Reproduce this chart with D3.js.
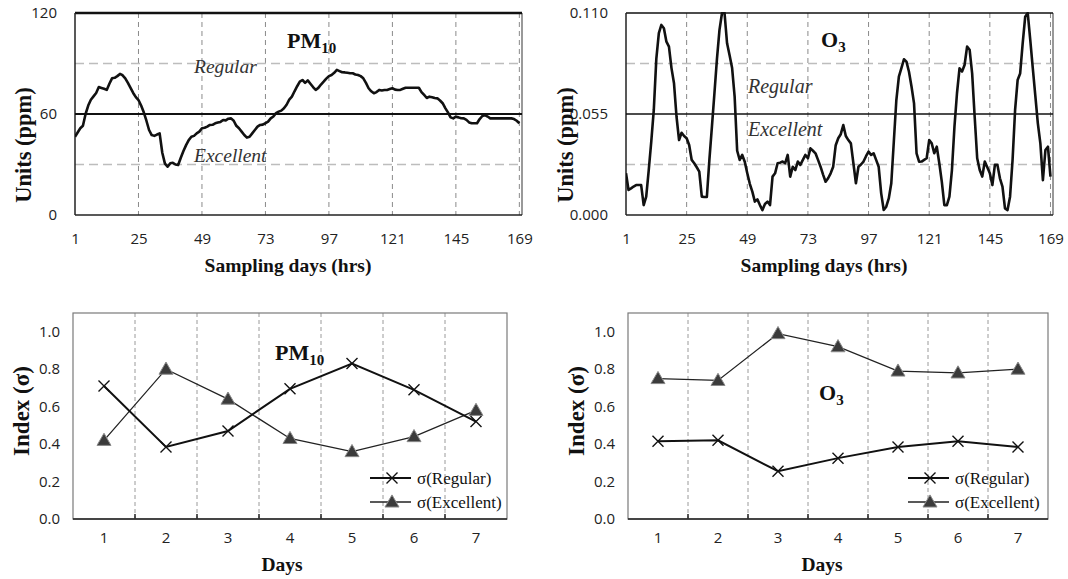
<!DOCTYPE html>
<html>
<head>
<meta charset="utf-8">
<script src="https://cdn.jsdelivr.net/npm/d3@7/dist/d3.min.js"></script>
<style>
  html, body { margin: 0; padding: 0; background: #fff; }
  svg { display: block; }
  .tick-label { font-family: "Open Sans", "Liberation Sans", sans-serif; font-size: 15px; fill: #222; }
  .axis-title { font-family: "Liberation Serif", "Times New Roman", serif; font-weight: bold; fill: #111; }
  .zone-label { font-family: "Liberation Serif", "Times New Roman", serif; font-style: italic; fill: #333; }
  .panel-label { font-family: "Liberation Serif", "Times New Roman", serif; font-weight: bold; fill: #111; }
  .legend-text { font-family: "Liberation Serif", "Times New Roman", serif; font-size: 17px; fill: #111; }
</style>
</head>
<body>
<svg id="chart" width="1068" height="579"></svg>
<script>
// ---------------- DATA ----------------
const hours = d3.range(1, 170); // sampling hour index 1..169
const hourTicks = [1, 25, 49, 73, 97, 121, 145, 169];

const pm10Hourly = [
  46.5, 49, 51.5, 53, 60, 65, 68.5, 70.5, 72.5, 76,
  75.5, 75, 74.3, 78, 81.2, 81.5, 82.5, 83.8, 83, 81.2,
  78.5, 75.5, 72.5, 70, 68.3, 65, 61, 56, 50.5, 47.5,
  47, 47.8, 48.5, 37, 30.5, 28.7, 30.7, 31, 30, 29.7,
  34, 38, 41.5, 44.5, 46.5, 47, 48.5, 49.5, 51.5, 51.8,
  52.5, 53.5, 53.6, 54.5, 54.9, 55.3, 56.4, 56.2, 57.2, 57.4,
  56, 53, 51.5, 49.5, 47.5, 46, 46.5, 48.5, 50.5, 52.5,
  53.5, 53.7, 54.5, 55.5, 57.4, 58.5, 60.5, 61.4, 62, 63.4,
  65.5, 68.5, 70.3, 73.5, 76.5, 79.2, 80.2, 78.5, 80, 78,
  76, 74.3, 75.5, 77.5, 79.2, 81, 82.5, 83.2, 84.5, 86.2,
  85.5, 84.8, 84.7, 84.5, 84.2, 84.2, 83.5, 83.2, 82.5, 81.2,
  78.5, 75.3, 73.5, 72.3, 73, 74.3, 74, 74.3, 74.3, 74.8,
  75.3, 74.5, 74.3, 74.3, 75, 75.6, 75.6, 75.6, 75.6, 75.6,
  75.6, 73, 71.3, 69.5, 70.3, 70, 69.5, 69.3, 68, 66.4,
  63.5, 61, 58, 57.4, 58.4, 58, 57.5, 57.4, 56.5, 55,
  54.5, 54.5, 54.5, 57, 58.8, 59.4, 58.5, 57.4, 57.4, 57.4,
  57.4, 57.4, 57.4, 57.4, 57.4, 57.4, 57, 56, 54.5
];

const o3Hourly = [
  0.0227, 0.0136, 0.0145, 0.0155, 0.0163, 0.0163, 0.0163, 0.0054, 0.0100, 0.0245,
  0.0400, 0.0572, 0.0850, 0.0990, 0.1035, 0.1017, 0.0944, 0.0917, 0.0800, 0.0717,
  0.0535, 0.0408, 0.0448, 0.0430, 0.0418, 0.0381, 0.0300, 0.0282, 0.0260, 0.0236,
  0.0100, 0.0098, 0.0098, 0.0300, 0.0480, 0.0663, 0.0850, 0.1008, 0.1100, 0.1100,
  0.0935, 0.0870, 0.0800, 0.0644, 0.0350, 0.0300, 0.0327, 0.0290, 0.0227, 0.0170,
  0.0127, 0.0073, 0.0085, 0.0054, 0.0027, 0.0060, 0.0073, 0.0054, 0.0209, 0.0227,
  0.0282, 0.0285, 0.0291, 0.0282, 0.0327, 0.0209, 0.0263, 0.0245, 0.0291, 0.0273,
  0.0300, 0.0327, 0.0309, 0.0363, 0.0350, 0.0336, 0.0300, 0.0263, 0.0220, 0.0181,
  0.0200, 0.0227, 0.0263, 0.0380, 0.0418, 0.0440, 0.0490, 0.0430, 0.0408, 0.0390,
  0.0282, 0.0173, 0.0263, 0.0275, 0.0291, 0.0320, 0.0345, 0.0327, 0.0336, 0.0300,
  0.0263, 0.0118, 0.0027, 0.0045, 0.0090, 0.0173, 0.0400, 0.0626, 0.0753, 0.0800,
  0.0848, 0.0835, 0.0780, 0.0700, 0.0608, 0.0336, 0.0290, 0.0291, 0.0300, 0.0309,
  0.0408, 0.0390, 0.0336, 0.0372, 0.0282, 0.0180, 0.0054, 0.0054, 0.0100, 0.0245,
  0.0481, 0.0663, 0.0799, 0.0781, 0.0817, 0.0917, 0.0900, 0.0771, 0.0535, 0.0309,
  0.0245, 0.0209, 0.0291, 0.0260, 0.0227, 0.0163, 0.0273, 0.0273, 0.0200, 0.0154,
  0.0036, 0.0027, 0.0100, 0.0300, 0.0572, 0.0735, 0.0771, 0.0935, 0.1080, 0.1100,
  0.0953, 0.0800, 0.0650, 0.0499, 0.0390, 0.0190, 0.0354, 0.0372, 0.0209
];

const pm10YTicks = [0, 60, 120];
const pm10Standard = 60;
const pm10Bands = [30, 90];          // excellent / regular dashed boundaries
const o3YTicks = [0, 0.055, 0.110];
const o3Standard = 0.055;
const o3Bands = [0.0275, 0.0825];

const days = [1, 2, 3, 4, 5, 6, 7];
const indexTicks = [0.0, 0.2, 0.4, 0.6, 0.8, 1.0];
const pm10Regular   = [0.71, 0.385, 0.47, 0.695, 0.83, 0.69, 0.52];
const pm10Excellent = [0.42, 0.80, 0.64, 0.43, 0.36, 0.44, 0.58];
const o3Regular     = [0.415, 0.42, 0.255, 0.325, 0.385, 0.415, 0.385];
const o3Excellent   = [0.75, 0.74, 0.99, 0.92, 0.79, 0.78, 0.80];
const legendLabels  = ["σ(Regular)", "σ(Excellent)"];

// ---------------- DRAW ----------------
const svg = d3.select("#chart");

function subLabel(g, x, y, main, sub, size, subSize) {
  const t = g.append("text").attr("class", "panel-label").attr("x", x).attr("y", y)
    .style("font-size", size + "px");
  t.append("tspan").text(main);
  t.append("tspan").attr("dy", 5).style("font-size", subSize + "px").text(sub);
}

function drawSeries(cfg) {
  const g = svg.append("g");
  const x = d3.scaleLinear().domain([1, 170]).range([cfg.left, cfg.right]);
  const y = d3.scaleLinear().domain([0, cfg.yMax]).range([cfg.bottom, cfg.top]);

  g.append("g").selectAll("line").data(hourTicks.slice(1)).join("line")
    .attr("x1", d => x(d)).attr("x2", d => x(d))
    .attr("y1", cfg.top).attr("y2", cfg.bottom)
    .attr("stroke", "#8a8a8a").attr("stroke-width", 1).attr("stroke-dasharray", "5,4");

  g.append("g").selectAll("line").data(cfg.bands).join("line")
    .attr("x1", cfg.left).attr("x2", cfg.right)
    .attr("y1", d => y(d)).attr("y2", d => y(d))
    .attr("stroke", "#bdbdbd").attr("stroke-width", 1.5).attr("stroke-dasharray", "9,5");

  g.append("line").attr("x1", cfg.right).attr("x2", cfg.right).attr("y1", cfg.top).attr("y2", cfg.bottom)
    .attr("stroke", "#777").attr("stroke-width", 1.5);
  g.append("line").attr("x1", cfg.left).attr("x2", cfg.right).attr("y1", cfg.top).attr("y2", cfg.top)
    .attr("stroke", "#111").attr("stroke-width", cfg.topWidth);
  g.append("line").attr("x1", cfg.left).attr("x2", cfg.left).attr("y1", cfg.top).attr("y2", cfg.bottom)
    .attr("stroke", "#222").attr("stroke-width", 1.5);
  g.append("line").attr("x1", cfg.left).attr("x2", cfg.right).attr("y1", cfg.bottom).attr("y2", cfg.bottom)
    .attr("stroke", "#222").attr("stroke-width", 1.5);

  g.append("line").attr("x1", cfg.left).attr("x2", cfg.right)
    .attr("y1", y(cfg.standard)).attr("y2", y(cfg.standard))
    .attr("stroke", "#111").attr("stroke-width", cfg.stdWidth);

  const xa = d3.axisBottom(x).tickValues(hourTicks).tickSize(0).tickPadding(18);
  const xg = g.append("g").attr("transform", `translate(0,${cfg.bottom})`).call(xa);
  xg.select(".domain").remove();
  xg.selectAll("text").attr("class", "tick-label").attr("font-family", null).attr("font-size", null);

  const ya = d3.axisLeft(y).tickValues(cfg.yTicks).tickSize(0).tickPadding(cfg.yPad).tickFormat(cfg.fmt);
  const yg = g.append("g").attr("transform", `translate(${cfg.left},0)`).call(ya);
  yg.select(".domain").remove();
  yg.selectAll("text").attr("class", "tick-label").attr("font-family", null).attr("font-size", null);

  const clipId = "clip" + cfg.id;
  svg.append("clipPath").attr("id", clipId).append("rect")
    .attr("x", cfg.left).attr("y", cfg.top - 1).attr("width", cfg.right - cfg.left).attr("height", cfg.bottom - cfg.top + 2);
  const line = d3.line().x((d, i) => x(hours[i])).y(d => y(d));
  g.append("path").datum(cfg.values).attr("d", line)
    .attr("clip-path", `url(#${clipId})`)
    .attr("fill", "none").attr("stroke", "#111").attr("stroke-width", 2.6).attr("stroke-linejoin", "round");

  g.append("text").attr("class", "zone-label").attr("x", cfg.zoneX).attr("y", cfg.regY)
    .style("font-size", cfg.zoneSize + "px").text("Regular");
  g.append("text").attr("class", "zone-label").attr("x", cfg.zoneX).attr("y", cfg.excY)
    .style("font-size", cfg.zoneSize + "px").text("Excellent");

  subLabel(g, cfg.labelX, cfg.labelY, cfg.main, cfg.sub, 22, 15);

  g.append("text").attr("class", "axis-title").style("font-size", "22.5px")
    .attr("transform", `translate(${cfg.yTitleX},${cfg.yTitleY}) rotate(-90)`)
    .attr("text-anchor", "middle").text("Units (ppm)");
  g.append("text").attr("class", "axis-title").style("font-size", "19.5px")
    .attr("x", cfg.xTitleX).attr("y", 272).attr("text-anchor", "middle").text("Sampling days (hrs)");
}

drawSeries({
  id: "pm", left: 75, right: 522, top: 13, bottom: 215, yMax: 120,
  values: pm10Hourly, bands: pm10Bands, standard: pm10Standard, yTicks: pm10YTicks,
  fmt: d3.format("d"), yPad: 18, topWidth: 2.5, stdWidth: 2,
  zoneX: 194, regY: 73, excY: 162, zoneSize: 19.5,
  labelX: 287, labelY: 48, main: "PM", sub: "10",
  yTitleX: 31, yTitleY: 145, xTitleX: 288
});

drawSeries({
  id: "o3", left: 626, right: 1053, top: 13, bottom: 215, yMax: 0.110,
  values: o3Hourly, bands: o3Bands, standard: o3Standard, yTicks: o3YTicks,
  fmt: d3.format(".3f"), yPad: 18, topWidth: 1.5, stdWidth: 1.5,
  zoneX: 748, regY: 93, excY: 136, zoneSize: 20,
  labelX: 821, labelY: 47, main: "O", sub: "3",
  yTitleX: 573, yTitleY: 145, xTitleX: 824
});

function drawIndex(cfg) {
  const g = svg.append("g");
  const x = d3.scaleBand().domain(days).range([cfg.left, cfg.right]);
  const y = d3.scaleLinear().domain([0, 1.1]).range([cfg.bottom, cfg.top]);
  const bounds = days.slice(1).map(d => x(d));

  g.append("g").selectAll("line").data(bounds).join("line")
    .attr("x1", d => d).attr("x2", d => d).attr("y1", cfg.top).attr("y2", cfg.bottom)
    .attr("stroke", "#9a9a9a").attr("stroke-width", 1).attr("stroke-dasharray", "4,3");
  g.append("g").selectAll("line").data(bounds).join("line")
    .attr("x1", d => d).attr("x2", d => d).attr("y1", cfg.bottom - 5).attr("y2", cfg.bottom)
    .attr("stroke", "#222").attr("stroke-width", 1.5);

  g.append("rect").attr("x", cfg.left).attr("y", cfg.top)
    .attr("width", cfg.right - cfg.left).attr("height", cfg.bottom - cfg.top)
    .attr("fill", "none").attr("stroke", "#7a7a7a").attr("stroke-width", 1.2);
  g.append("line").attr("x1", cfg.left).attr("x2", cfg.right).attr("y1", cfg.bottom).attr("y2", cfg.bottom)
    .attr("stroke", "#222").attr("stroke-width", 1.6);

  const xa = d3.axisBottom(x).tickSize(0).tickPadding(13);
  const xg = g.append("g").attr("transform", `translate(0,${cfg.bottom})`).call(xa);
  xg.select(".domain").remove();
  xg.selectAll("text").attr("class", "tick-label").attr("font-family", null).attr("font-size", null);

  const ya = d3.axisLeft(y).tickValues(indexTicks).tickSize(0).tickPadding(13).tickFormat(d3.format(".1f"));
  const yg = g.append("g").attr("transform", `translate(${cfg.left},0)`).call(ya);
  yg.select(".domain").remove();
  yg.selectAll("text").attr("class", "tick-label").attr("font-family", null).attr("font-size", null);

  const cx = d => x(d) + x.bandwidth() / 2;
  const line = d3.line().x((d, i) => cx(days[i])).y(d => y(d));

  g.append("path").datum(cfg.exc).attr("d", line).attr("fill", "none")
    .attr("stroke", "#222").attr("stroke-width", 1.3);
  g.append("path").datum(cfg.reg).attr("d", line).attr("fill", "none")
    .attr("stroke", "#111").attr("stroke-width", 2);

  const tri = d3.symbol().type(d3.symbolTriangle).size(85);
  g.append("g").selectAll("path").data(cfg.exc).join("path")
    .attr("d", tri).attr("transform", (d, i) => `translate(${cx(days[i])},${y(d) + 1})`)
    .attr("fill", "#3b3b3b").attr("stroke", "#8a8a8a").attr("stroke-width", 1);
  const cross = (sz) => `M${-sz},${-sz}L${sz},${sz}M${-sz},${sz}L${sz},${-sz}`;
  g.append("g").selectAll("path").data(cfg.reg).join("path")
    .attr("d", cross(5.5)).attr("transform", (d, i) => `translate(${cx(days[i])},${y(d)})`)
    .attr("fill", "none").attr("stroke", "#111").attr("stroke-width", 1.4);

  const lg = g.append("g");
  const lx = cfg.legX, ly0 = 478, ly1 = 502;
  lg.append("line").attr("x1", lx).attr("x2", lx + 41).attr("y1", ly0).attr("y2", ly0)
    .attr("stroke", "#111").attr("stroke-width", 2);
  lg.append("path").attr("d", cross(5.5)).attr("transform", `translate(${lx + 22},${ly0})`)
    .attr("stroke", "#111").attr("stroke-width", 1.4).attr("fill", "none");
  lg.append("line").attr("x1", lx).attr("x2", lx + 41).attr("y1", ly1).attr("y2", ly1)
    .attr("stroke", "#222").attr("stroke-width", 1.3);
  lg.append("path").attr("d", tri).attr("transform", `translate(${lx + 22},${ly1 + 1})`)
    .attr("fill", "#3b3b3b").attr("stroke", "#8a8a8a").attr("stroke-width", 1);
  lg.append("text").attr("class", "legend-text").attr("x", lx + 47).attr("y", ly0 + 6).text(legendLabels[0]);
  lg.append("text").attr("class", "legend-text").attr("x", lx + 47).attr("y", ly1 + 6).text(legendLabels[1]);

  subLabel(g, cfg.labelX, cfg.labelY, cfg.main, cfg.sub, 22, 15);

  g.append("text").attr("class", "axis-title").style("font-size", "23px")
    .attr("transform", `translate(${cfg.yTitleX},411) rotate(-90)`)
    .attr("text-anchor", "middle").text("Index (σ)");
  g.append("text").attr("class", "axis-title").style("font-size", "19.5px")
    .attr("x", cfg.xTitleX).attr("y", 571).attr("text-anchor", "middle").text("Days");
}

drawIndex({
  left: 73, right: 507, top: 313, bottom: 519,
  reg: pm10Regular, exc: pm10Excellent, legX: 370,
  labelX: 275, labelY: 360, main: "PM", sub: "10",
  yTitleX: 29, xTitleX: 282
});

drawIndex({
  left: 628, right: 1048, top: 313, bottom: 519,
  reg: o3Regular, exc: o3Excellent, legX: 908,
  labelX: 819, labelY: 400, main: "O", sub: "3",
  yTitleX: 584, xTitleX: 822
});
</script>
</body>
</html>
